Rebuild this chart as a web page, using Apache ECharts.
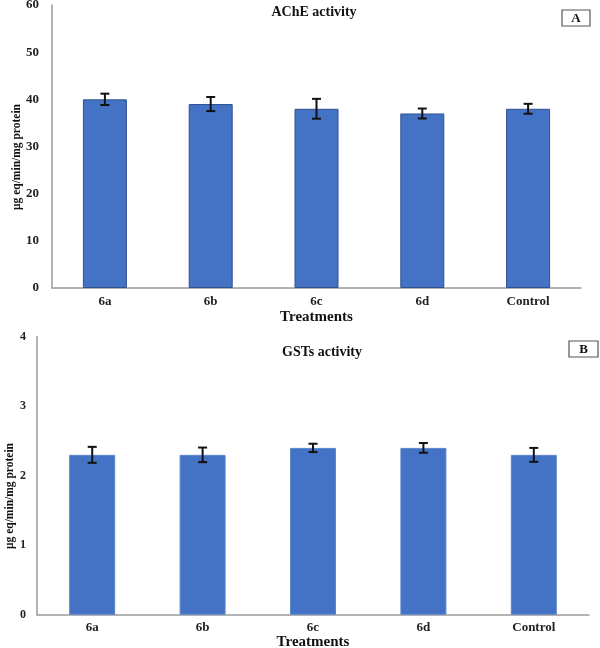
<!DOCTYPE html>
<html>
<head>
<meta charset="utf-8">
<script src="https://cdn.jsdelivr.net/npm/echarts@6/dist/echarts.min.js"></script>
<style>html,body{margin:0;padding:0;background:#fff}#c{width:600px;height:648px}</style>
</head>
<body>
<div id="c"></div>
<script>
var categories = ['6a', '6b', '6c', '6d', 'Control'];
var acheValues = [40, 39, 38, 37, 38];
var acheErrors = [1.2, 1.5, 2.1, 1.05, 1.05];
var gstValues = [2.3, 2.3, 2.4, 2.4, 2.3];
var gstErrors = [0.115, 0.105, 0.06, 0.07, 0.1];
var acheTicks = {min: 0, max: 60, interval: 10};
var gstTicks = {min: 0, max: 4, interval: 1};

var FONT = '"Liberation Serif", "Times New Roman", serif';
var chart = echarts.init(document.getElementById('c'), null, {renderer: 'canvas'});

function errData(vals, errs) {
  return vals.map(function (v, i) { return [i, v - errs[i], v + errs[i]]; });
}
function errRender(params, api) {
  var x = api.value(0);
  var lo = api.coord([x, api.value(1)]);
  var hi = api.coord([x, api.value(2)]);
  var hw = 4.5;
  var st = {stroke: '#111', lineWidth: 2};
  return {
    type: 'group',
    children: [
      {type: 'line', shape: {x1: hi[0], y1: hi[1], x2: lo[0], y2: lo[1]}, style: st},
      {type: 'line', shape: {x1: hi[0] - hw, y1: hi[1], x2: hi[0] + hw, y2: hi[1]}, style: st},
      {type: 'line', shape: {x1: lo[0] - hw, y1: lo[1], x2: lo[0] + hw, y2: lo[1]}, style: st}
    ]
  };
}
var axisLine = {show: true, lineStyle: {color: '#9a9a9a', width: 1.5}};
var labelStyle = {fontFamily: FONT, fontWeight: 'bold', fontSize: 13, color: '#222'};
var labelStyleB = {fontFamily: FONT, fontWeight: 'bold', fontSize: 12, color: '#222'};
var nameStyle = {fontFamily: FONT, fontWeight: 'bold', fontSize: 15, color: '#111'};
var yName = 'μg eq/min/mg protein';

chart.setOption({
  animation: false,
  textStyle: {fontFamily: FONT},
  grid: [
    {left: 52, right: 19, top: 5, bottom: 360, containLabel: false, outerBoundsMode: 'none'},
    {left: 37, right: 11, top: 336.7, bottom: 33.3, containLabel: false, outerBoundsMode: 'none'}
  ],
  xAxis: [
    {gridIndex: 0, type: 'category', data: categories, axisLine: axisLine, axisTick: {show: false},
     axisLabel: Object.assign({margin: 7}, labelStyle),
     name: 'Treatments', nameLocation: 'middle', nameGap: 22, nameTextStyle: nameStyle},
    {gridIndex: 1, type: 'category', data: categories, axisLine: axisLine, axisTick: {show: false},
     axisLabel: Object.assign({margin: 6}, labelStyle),
     name: 'Treatments', nameLocation: 'middle', nameGap: 20, nameTextStyle: nameStyle}
  ],
  yAxis: [
    {gridIndex: 0, type: 'value', min: acheTicks.min, max: acheTicks.max, interval: acheTicks.interval,
     axisLine: axisLine, axisTick: {show: false}, splitLine: {show: false},
     axisLabel: Object.assign({margin: 13}, labelStyle)},
    {gridIndex: 1, type: 'value', min: gstTicks.min, max: gstTicks.max, interval: gstTicks.interval,
     axisLine: axisLine, axisTick: {show: false}, splitLine: {show: false},
     axisLabel: Object.assign({margin: 11}, labelStyleB)}
  ],
  series: [
    {type: 'bar', xAxisIndex: 0, yAxisIndex: 0, data: acheValues, barWidth: 44,
     itemStyle: {color: '#4472C4', borderColor: '#2F528F', borderWidth: 1}},
    {type: 'custom', xAxisIndex: 0, yAxisIndex: 0, data: errData(acheValues, acheErrors),
     renderItem: errRender, z: 5},
    {type: 'bar', xAxisIndex: 1, yAxisIndex: 1, data: gstValues, barWidth: 46,
     itemStyle: {color: '#4472C4', borderColor: '#5b86d0', borderWidth: 1}},
    {type: 'custom', xAxisIndex: 1, yAxisIndex: 1, data: errData(gstValues, gstErrors),
     renderItem: errRender, z: 5}
  ],
  graphic: [
    {type: 'text', x: 314, y: 12, style: {text: 'AChE activity', font: 'bold 14px ' + FONT, fill: '#111', align: 'center', verticalAlign: 'middle'}},
    {type: 'rect', shape: {x: 562, y: 10, width: 28, height: 16}, style: {fill: '#fff', stroke: '#555', lineWidth: 1.2}},
    {type: 'text', x: 576, y: 18.5, style: {text: 'A', font: 'bold 13px ' + FONT, fill: '#111', align: 'center', verticalAlign: 'middle'}},
    {type: 'text', x: 322, y: 352, style: {text: 'GSTs activity', font: 'bold 14px ' + FONT, fill: '#111', align: 'center', verticalAlign: 'middle'}},
    {type: 'rect', shape: {x: 569, y: 341, width: 29, height: 16}, style: {fill: '#fff', stroke: '#555', lineWidth: 1.2}},
    {type: 'text', x: 583.5, y: 349.5, style: {text: 'B', font: 'bold 13px ' + FONT, fill: '#111', align: 'center', verticalAlign: 'middle'}},
    {type: 'text', x: 17, y: 157, rotation: Math.PI / 2, style: {text: yName, font: 'bold 11.5px ' + FONT, fill: '#111', align: 'center', verticalAlign: 'middle'}},
    {type: 'text', x: 10, y: 496, rotation: Math.PI / 2, style: {text: yName, font: 'bold 11.5px ' + FONT, fill: '#111', align: 'center', verticalAlign: 'middle'}}
  ]
});
</script>
</body>
</html>
